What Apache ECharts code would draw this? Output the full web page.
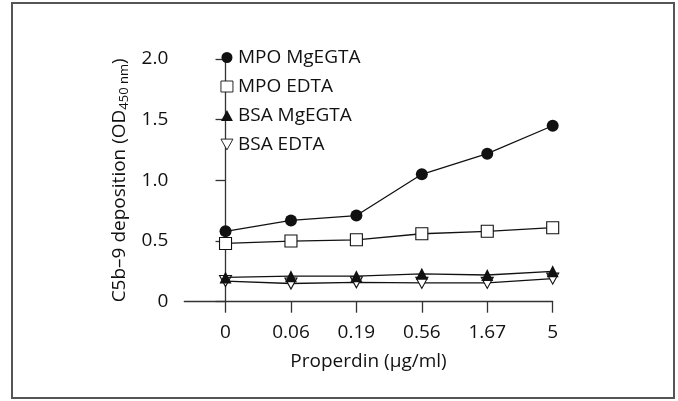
<!DOCTYPE html>
<html><head><meta charset="utf-8">
<script src="https://cdn.jsdelivr.net/npm/echarts@6/dist/echarts.min.js"></script>
<style>html,body{margin:0;padding:0;background:#fff}#c{width:678px;height:401px}</style>
</head><body><div id="c"></div>
<script>
var categories = ['0', '0.06', '0.19', '0.56', '1.67', '5'];
var mpoMgEGTA = [0.58, 0.67, 0.71, 1.05, 1.22, 1.45];
var mpoEDTA = [0.48, 0.50, 0.51, 0.56, 0.58, 0.61];
var bsaMgEGTA = [0.20, 0.21, 0.21, 0.23, 0.22, 0.25];
var bsaEDTA = [0.17, 0.15, 0.16, 0.155, 0.155, 0.19];
var yTicks = [0, 0.5, 1.0, 1.5, 2.0];

var FONT = '"Open Sans", "Noto Sans", sans-serif';
var TXT = '#111';
var INV_TRI = 'path://M0,0L10,0L5,9Z';

function pts(arr){ return arr.map(function(v,i){ return [i, v]; }); }
var idx = categories.map(function(c,i){ return i; });

var chart = echarts.init(document.getElementById('c'), null, {renderer:'canvas'});
function mk(name, data, symbol, size, fill, z){
  return {
    name: name, type: 'line', data: pts(data), symbol: symbol, symbolSize: size,
    showSymbol: true, z: z,
    lineStyle: {color: '#111', width: 1.3},
    itemStyle: {color: fill, borderColor: '#111', borderWidth: fill === '#fff' ? 1.1 : 0},
    emphasis: {disabled: true}, animation: false
  };
}
chart.setOption({
  animation: false,
  graphic: [{
    type: 'rect', shape: {x: 12, y: 3, width: 662, height: 395},
    style: {fill: 'none', stroke: '#555', lineWidth: 2}, silent: true
  }],
  grid: {left: 184.3, right: 125.3, top: 59, bottom: 99.3, containLabel: false},
  legend: {
    orient: 'vertical', left: 220.5, top: 48, padding: 0, itemWidth: 12, itemHeight: 11, itemGap: 10,
    textStyle: {fontFamily: FONT, fontSize: 19, color: TXT, lineHeight: 19},
    data: [
      {name: 'MPO MgEGTA', icon: 'circle'},
      {name: 'MPO EDTA', icon: 'rect', itemStyle: {borderWidth: 0.9}},
      {name: 'BSA MgEGTA', icon: 'triangle'},
      {name: 'BSA EDTA', icon: INV_TRI, itemStyle: {borderWidth: 0.9}}
    ],
    selectedMode: false
  },
  xAxis: {
    type: 'value', min: -0.63, max: 5,
    name: 'Properdin (µg/ml)', nameLocation: 'middle', nameGap: 50,
    nameTextStyle: {fontFamily: FONT, fontSize: 19, color: TXT},
    axisLine: {lineStyle: {color: '#333', width: 1.3}},
    axisTick: {show: true, length: 11, customValues: idx, lineStyle: {color: '#333', width: 1.3}},
    axisLabel: {customValues: idx, margin: 21, fontFamily: FONT, fontSize: 19, color: TXT,
      formatter: function(v){ return categories[Math.round(v)]; }},
    splitLine: {show: false}
  },
  yAxis: {
    type: 'value', min: 0, max: 2, interval: 0.5,
    name: '{m|C5b–9 deposition (OD}{s|450 nm}{m|)}', nameLocation: 'middle', nameRotate: 90, nameGap: 51,
    nameTextStyle: {fontFamily: FONT, fontSize: 19, color: TXT,
      rich: {m: {fontFamily: FONT, fontSize: 19, color: TXT, lineHeight: 24},
             s: {fontFamily: FONT, fontSize: 13, color: TXT, lineHeight: 13, padding: [9,0,0,0]}}},
    axisLine: {show: true, lineStyle: {color: '#333', width: 1.3}},
    axisTick: {show: true, length: 10, lineStyle: {color: '#333', width: 1.3}},
    axisLabel: {margin: 16, fontFamily: FONT, fontSize: 19, color: TXT,
      formatter: function(v){ return v === 0 ? '0' : v.toFixed(1); }},
    splitLine: {show: false}
  },
  series: [
    mk('BSA EDTA', bsaEDTA, INV_TRI, [12, 11], '#fff', 2),
    mk('BSA MgEGTA', bsaMgEGTA, 'triangle', [12, 12], '#111', 3),
    mk('MPO EDTA', mpoEDTA, 'rect', 12, '#fff', 4),
    mk('MPO MgEGTA', mpoMgEGTA, 'circle', 12, '#111', 5)
  ]
});
</script></body></html>
